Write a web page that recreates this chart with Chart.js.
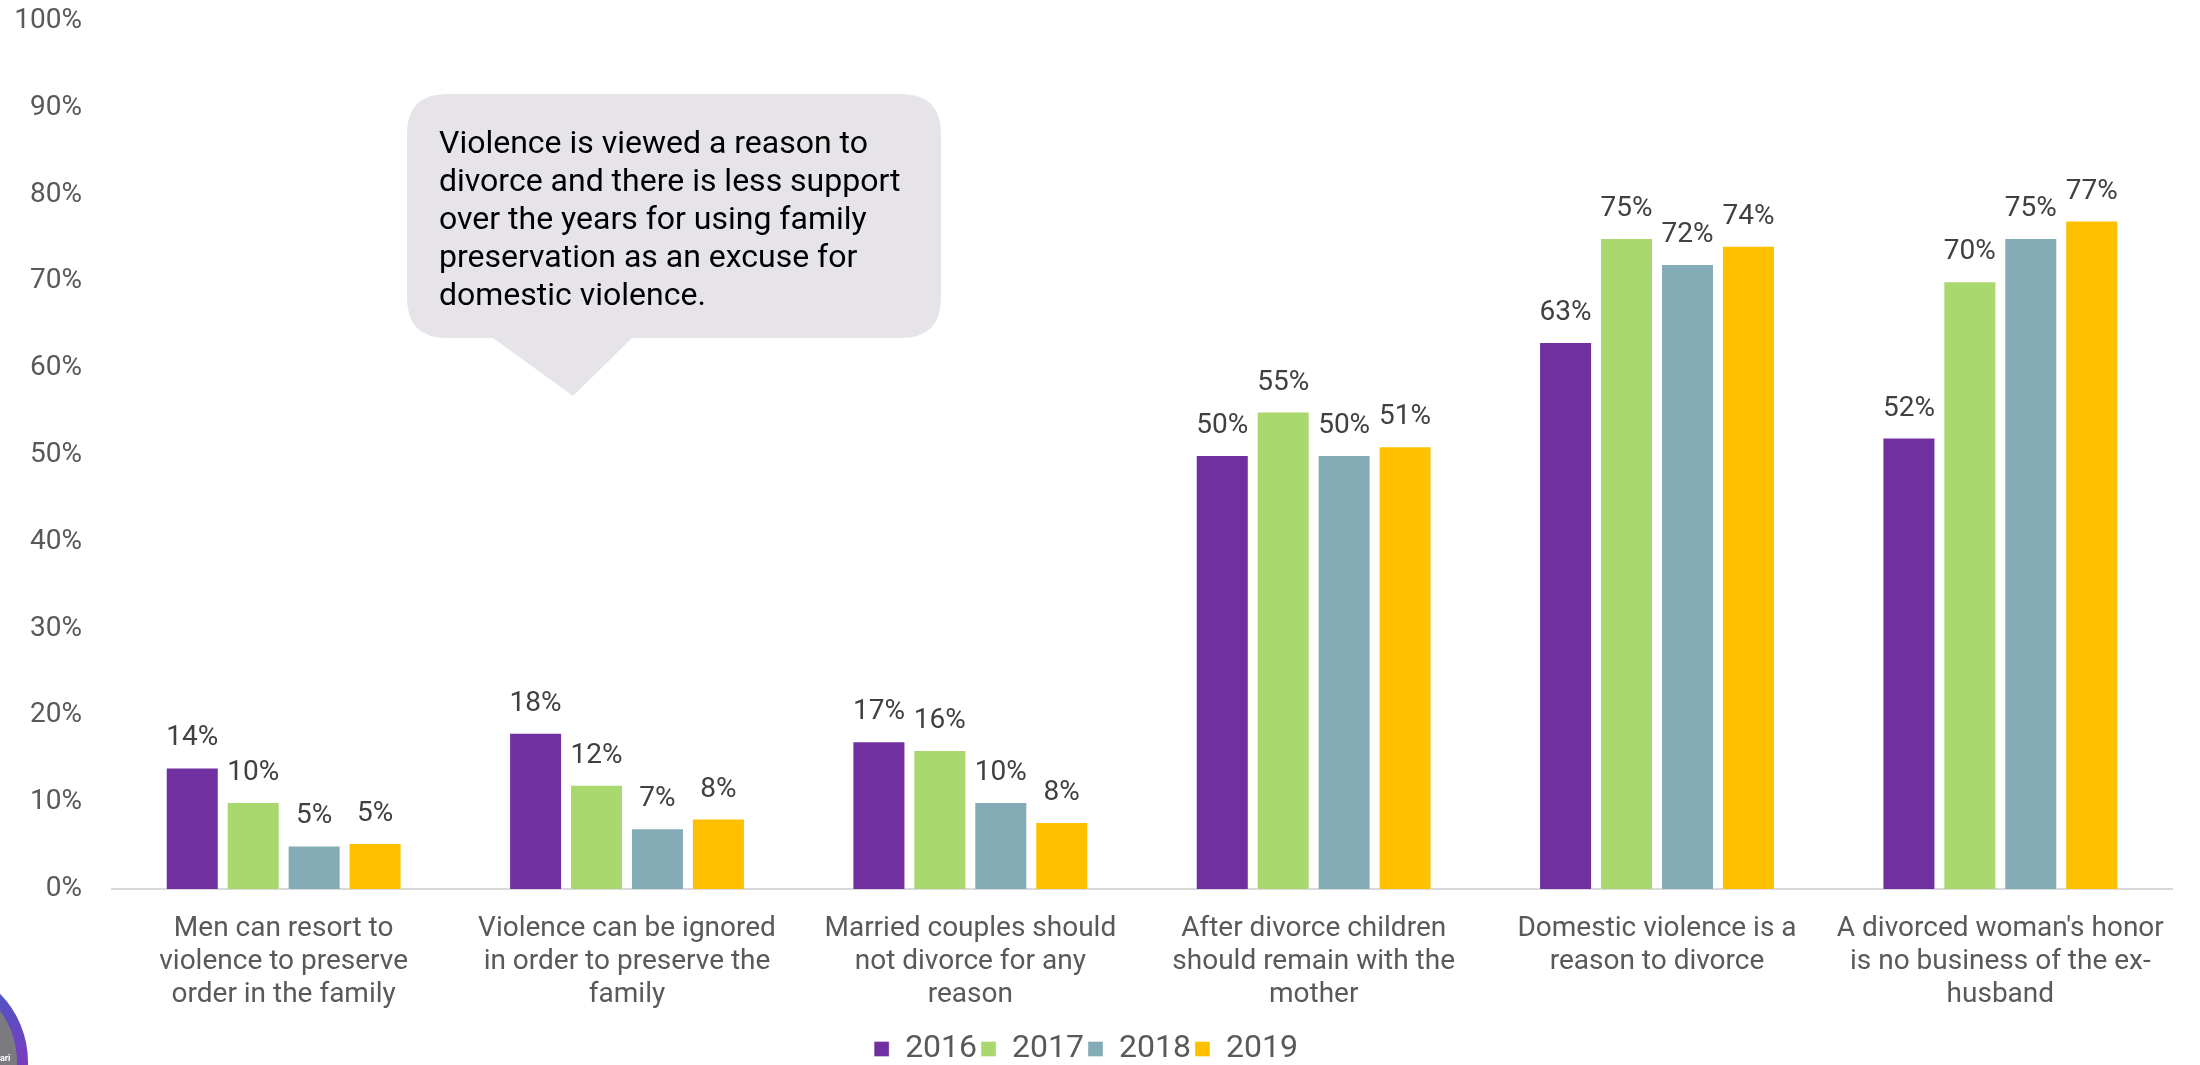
<!DOCTYPE html>
<html>
<head>
<meta charset="utf-8">
<script src="https://cdn.jsdelivr.net/npm/chart.js@4.4.1/dist/chart.umd.min.js"></script>
<style>
  html, body { margin: 0; padding: 0; background: #ffffff; }
  #wrap { position: relative; width: 2200px; height: 1065px; }
</style>
</head>
<body>
<div id="wrap"><canvas id="attitudeChart"></canvas></div>
<script>
// Catégories (axe x)
const categories = [
  ["Men can resort to", "violence to preserve", "order in the family"],
  ["Violence can be ignored", "in order to preserve the", "family"],
  ["Married couples should", "not divorce for any", "reason"],
  ["After divorce children", "should remain with the", "mother"],
  ["Domestic violence is a", "reason to divorce"],
  ["A divorced woman's honor", "is no business of the ex-", "husband"],
];

// Valeurs par année (%)
const years = ["2016", "2017", "2018", "2019"];
const values2016 = [14, 18, 17, 50, 63, 52];
const values2017 = [10, 12, 16, 55, 75, 70];
const values2018 = [5, 7, 10, 50, 72, 75];
const values2019 = [5.3, 8.1, 7.7, 51, 74.1, 77];

// Graduations de l'axe y
const yTicks = [0, 10, 20, 30, 40, 50, 60, 70, 80, 90, 100];

const calloutLines = [
  "Violence is viewed a reason to",
  "divorce and there is less support",
  "over the years for using family",
  "preservation as an excuse for",
  "domestic violence.",
];

const colors = ["#7030A0", "#A9D86E", "#84ACB6", "#FFC000"];
const FONT = "Roboto";

// Étiquettes au-dessus des barres
const barLabels = {
  id: "barLabels",
  afterDatasetsDraw(chart) {
    const ctx = chart.ctx;
    ctx.save();
    ctx.font = "28px " + FONT;
    ctx.fillStyle = "#404040";
    ctx.textAlign = "center";
    ctx.textBaseline = "middle";
    chart.data.datasets.forEach((ds, i) => {
      chart.getDatasetMeta(i).data.forEach((bar, j) => {
        ctx.fillText(Math.round(ds.data[j]) + "%", bar.x, bar.y - 29);
      });
    });
    ctx.restore();
  },
};

// Légende un peu plus basse (comme dans l'original)
const legendShift = {
  id: "legendShift",
  afterInit(chart) {
    const legend = chart.legend;
    if (!legend) return;
    const fit = legend.fit;
    legend.fit = function () {
      fit.call(this);
      this.height -= 10;
    };
  },
};

// Bulle de commentaire + logo
const callout = {
  id: "callout",
  afterDraw(chart) {
    const ctx = chart.ctx;
    ctx.save();
    const x = 407, y = 94, w = 534, h = 244, r = 40;
    ctx.fillStyle = "#E7E4E9";
    ctx.beginPath();
    ctx.moveTo(x + r, y);
    ctx.lineTo(x + w - r, y);
    ctx.quadraticCurveTo(x + w, y, x + w, y + r);
    ctx.lineTo(x + w, y + h - r);
    ctx.quadraticCurveTo(x + w, y + h, x + w - r, y + h);
    ctx.lineTo(632, y + h);
    ctx.lineTo(573, 396);
    ctx.lineTo(493, y + h);
    ctx.lineTo(x + r, y + h);
    ctx.quadraticCurveTo(x, y + h, x, y + h - r);
    ctx.lineTo(x, y + r);
    ctx.quadraticCurveTo(x, y, x + r, y);
    ctx.closePath();
    ctx.fill();

    ctx.fillStyle = "#000000";
    ctx.font = "32px " + FONT;
    ctx.textAlign = "left";
    ctx.textBaseline = "alphabetic";
    calloutLines.forEach((line, i) => {
      ctx.fillText(line, 439, 153 + i * 38);
    });

    // logo partiel en bas à gauche
    const grad = ctx.createLinearGradient(0, 960, 0, 1065);
    grad.addColorStop(0, "#3D5FC4");
    grad.addColorStop(1, "#7A3CC0");
    ctx.fillStyle = grad;
    ctx.beginPath();
    ctx.arc(-69, 1062, 97, 0, Math.PI * 2);
    ctx.fill();
    ctx.fillStyle = "#7B7B7F";
    ctx.beginPath();
    ctx.arc(-69, 1062, 86, 0, Math.PI * 2);
    ctx.fill();
    ctx.fillStyle = "#ffffff";
    ctx.font = "bold 9px " + FONT;
    ctx.fillText("ari", 0, 1061);
    ctx.restore();
  },
};

new Chart(document.getElementById("attitudeChart"), {
  type: "bar",
  data: {
    labels: categories,
    datasets: [
      { label: years[0], data: values2016, backgroundColor: colors[0] },
      { label: years[1], data: values2017, backgroundColor: colors[1] },
      { label: years[2], data: values2018, backgroundColor: colors[2] },
      { label: years[3], data: values2019, backgroundColor: colors[3] },
    ].map((ds) => ({
      ...ds,
      borderColor: "rgba(255,255,255,0.35)",
      borderWidth: 1,
      categoryPercentage: 0.71,
      barPercentage: 0.87,
    })),
  },
  options: {
    responsive: true,
    maintainAspectRatio: false,
    animation: false,
    devicePixelRatio: 1,
    layout: {
      padding: { top: 21, right: 28, left: 0, bottom: 0 },
    },
    plugins: {
      legend: {
        position: "bottom",
        labels: {
          color: "#595959",
          font: { family: FONT, size: 32 },
          boxWidth: 15,
          boxHeight: 15,
          padding: 4,
        },
      },
      tooltip: { enabled: false },
    },
    scales: {
      x: {
        afterFit: (scale) => {
          scale.height -= 7;
        },
        grid: { display: false, drawTicks: false },
        border: { display: true, color: "#D9D9D9", width: 2 },
        ticks: {
          color: "#595959",
          font: { family: FONT, size: 28, lineHeight: 1.18 },
          padding: 24,
          maxRotation: 0,
          autoSkip: false,
        },
      },
      y: {
        min: 0,
        max: 100,
        afterBuildTicks: (scale) => {
          scale.ticks = yTicks.map((v) => ({ value: v }));
        },
        afterFit: (scale) => {
          scale.width = 112;
        },
        grid: { display: false, drawTicks: true, tickLength: 30 },
        border: { display: false },
        ticks: {
          color: "#595959",
          font: { family: FONT, size: 28 },
          padding: 0,
          callback: (v) => v + "%",
        },
      },
    },
  },
  plugins: [barLabels, callout, legendShift],
});
</script>
</body>
</html>
